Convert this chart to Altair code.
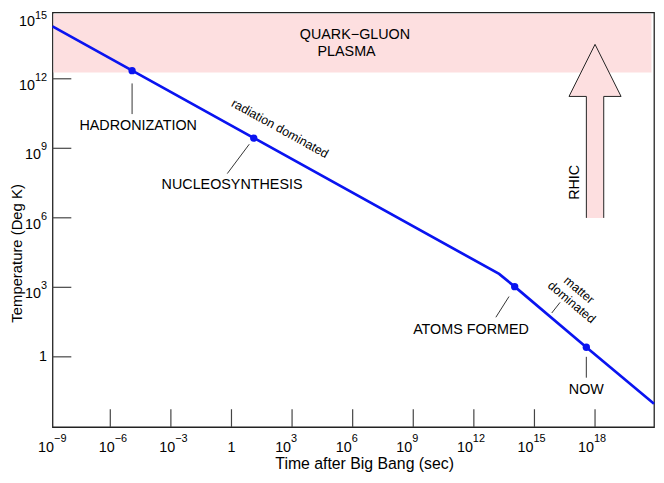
import altair as alt
import pandas as pd

FONT = "Liberation Sans"
BLUE = "#0a14f0"
PINK = "#fddfe0"
INK = "#222222"

# ---- data ----
# temperature history of the universe
line_time = [1.38e-9, 1.78e13, 1.05e14, 3.7e17, 8.3e20]
line_temp = [1.82e14, 3.8e3, 1.07e3, 2.6, 9.5e-3]

event_names = ["HADRONIZATION", "NUCLEOSYNTHESIS", "ATOMS FORMED", "NOW"]
event_time = [1.2e-5, 12.6, 1.05e14, 3.7e17]
event_temp = [2.24e12, 2.75e9, 1.07e3, 2.6]

# quark-gluon plasma region
qgp_time = [1.55e-9, 6.2e20]
qgp_temp = [1.86e12, 6.3e14]

# RHIC arrow (centre)
rhic_time = [1.0e18]
rhic_temp = [5.5e9]

# annotation texts
ann_text = ["HADRONIZATION", "NUCLEOSYNTHESIS", "ATOMS FORMED", "NOW",
            "QUARK\u2212GLUON", "PLASMA", "RHIC",
            "radiation dominated", "matter", "dominated"]
ann_time = [2.4e-5, 1.07, 7.2e11, 3.7e17, 1.3e6, 5.0e5, 1.0e17, 250, 1.6e17, 6.9e16]
ann_temp = [8.9e9, 2.5e7, 15, 0.038, 7.4e13, 1.4e13, 3.4e7, 7.1e9, 760, 224]
ann_angle = [0, 0, 0, 0, 0, 0, 270, 29, 40, 40]
ann_size = [14.5, 14.5, 14.5, 14.5, 14.5, 14.5, 14.5, 12.5, 12.5, 12.5]

# leader lines (start, end)
lead_t0 = [1.2e-5, 0.62, 1.23e13, 3.7e17, 7.2e15]
lead_T0 = [6.3e11, 8.1e7, 51, 1.0, 78]
lead_t1 = [1.2e-5, 7.6, 5.5e13, 3.7e17, 1.86e16]
lead_T1 = [3.0e10, 1.5e9, 400, 0.126, 224]

# tick exponents
x_tick_exps = [-9, -6, -3, 0, 3, 6, 9, 12, 15, 18]
y_tick_exps = [15, 12, 9, 6, 3, 0]

X_MIN, X_MAX = 10 ** -8.86, 10 ** 20.92
Y_MIN, Y_MAX = 10 ** -3.03, 10 ** 14.86
W, H = 608, 419

# ---- scales / axes ----
xs = alt.Scale(type="log", domain=[X_MIN, X_MAX], nice=False)
ys = alt.Scale(type="log", domain=[Y_MIN, Y_MAX], nice=False)
x_axis = alt.Axis(labels=False, ticks=False, domain=False, grid=False,
                  title="Time after Big Bang (sec)", titleFont=FONT, titleFontSize=16,
                  titleFontWeight="normal", titleColor="black", titleX=315, titleY=42,
                  titleAlign="center", titleBaseline="alphabetic")
y_axis = alt.Axis(labels=False, ticks=False, domain=False, grid=False,
                  title="Temperature (Deg K)", titleFont=FONT, titleFontSize=15,
                  titleFontWeight="normal", titleColor="black", titleAngle=270,
                  titleX=-31, titleY=243, titleAlign="center", titleBaseline="alphabetic")


def X(f):
    return alt.X(f, type="quantitative", scale=xs, axis=x_axis)


def Y(f):
    return alt.Y(f, type="quantitative", scale=ys, axis=y_axis)


def sup(e):
    return str(e).replace("-", "\u2212")


# ---- tables ----
line_df = pd.DataFrame({"t": line_time, "T": line_temp})
ev_df = pd.DataFrame({"name": event_names, "t": event_time, "T": event_temp})
qgp_df = pd.DataFrame({"t0": [qgp_time[0]], "t1": [qgp_time[1]],
                       "T0": [qgp_temp[0]], "T1": [qgp_temp[1]]})
rhic_df = pd.DataFrame({"t": rhic_time, "T": rhic_temp})
ann_df = pd.DataFrame({"text": ann_text, "t": ann_time, "T": ann_temp,
                       "angle": ann_angle, "fs": ann_size})
lead_df = pd.DataFrame({"t0": lead_t0, "T0": lead_T0, "t1": lead_t1, "T1": lead_T1})

xt = pd.DataFrame({"e": x_tick_exps})
xt["v"] = [10.0 ** e for e in x_tick_exps]
xt["lab"] = [sup(e) for e in x_tick_exps]
yt = pd.DataFrame({"e": y_tick_exps})
yt["v"] = [10.0 ** e for e in y_tick_exps]
yt["lab"] = [sup(e) for e in y_tick_exps]
yt["nd"] = [len(str(abs(e))) for e in y_tick_exps]

# ---- layers ----
band = alt.Chart(qgp_df).mark_rect(color=PINK, opacity=1).encode(
    x=X("t0"), x2="t1", y=Y("T0"), y2="T1")

ARROW_FILL = "M0,-1L0.3,-0.4L0.1,-0.4L0.1,1L-0.1,1L-0.1,-0.4L-0.3,-0.4Z"
ARROW_EDGE = "M0.1,1L0.1,-0.4L0.3,-0.4L0,-1L-0.3,-0.4L-0.1,-0.4L-0.1,1"
arrow_fill = alt.Chart(rhic_df).mark_point(
    shape=ARROW_FILL, filled=True, fill=PINK, opacity=1, strokeWidth=0, size=30765
).encode(x=X("t"), y=Y("T"))
arrow_edge = alt.Chart(rhic_df).mark_point(
    shape=ARROW_EDGE, filled=False, stroke=INK, strokeWidth=1, opacity=1, size=30765
).encode(x=X("t"), y=Y("T"))

curve = alt.Chart(line_df).mark_line(color=BLUE, strokeWidth=2.7).encode(x=X("t"), y=Y("T"))
dots = alt.Chart(ev_df).mark_circle(color=BLUE, size=55, opacity=1).encode(x=X("t"), y=Y("T"))

leaders = alt.Chart(lead_df).mark_rule(color="#333333", strokeWidth=1).encode(
    x=X("t0"), x2="t1", y=Y("T0"), y2="T1")

labels = alt.Chart(ann_df).mark_text(font=FONT, color="black", align="center",
                                      baseline="middle").encode(
    x=X("t"), y=Y("T"), text="text:N",
    angle=alt.Angle("angle:Q", scale=None), size=alt.Size("fs:Q", scale=None))

# inward ticks
ytick = alt.Chart(yt).transform_filter("datum.e <= 12").mark_rule(
    color="#444444", strokeWidth=1.2).encode(y=Y("v"), x=alt.value(0), x2=alt.value(19))
xtick = alt.Chart(xt).transform_filter("datum.e >= -6").mark_rule(
    color="#444444", strokeWidth=1.2).encode(x=X("v"), y=alt.value(H), y2=alt.value(H - 18))

xbot = alt.YDatum(Y_MIN, type="quantitative", scale=ys, axis=y_axis)
yleft = alt.XDatum(X_MIN, type="quantitative", scale=xs, axis=x_axis)

tick_layers = []
for cond, dxv in [("datum.e < 0", 4.4), ("datum.e > 0", -1)]:
    src = alt.Chart(xt).transform_filter(cond)
    tick_layers.append(src.mark_text(font=FONT, fontSize=14.5, align="right", baseline="middle",
                                     dx=dxv, dy=21, color="black").encode(
        x=X("v"), y=xbot, text=alt.value("10")))
    tick_layers.append(src.mark_text(font=FONT, fontSize=11, align="left", baseline="middle",
                                     dx=dxv, dy=12, color="black").encode(
        x=X("v"), y=xbot, text="lab:N"))
tick_layers.append(alt.Chart(xt).transform_filter("datum.e == 0").mark_text(
    font=FONT, fontSize=14.5, align="center", baseline="middle", dy=21.5, color="black").encode(
    x=X("v"), y=xbot, text=alt.value("1")))

# y labels: (filter, base dx, base dy, exponent dy)
for cond, dxv, bdy, edy in [("datum.e == 15", -17.7, 12.8, 6.8),
                            ("datum.e != 0 && datum.e != 15 && datum.nd == 2", -17.7, 7, -1),
                            ("datum.e != 0 && datum.nd == 1", -11.6, 7, -1)]:
    src = alt.Chart(yt).transform_filter(cond)
    tick_layers.append(src.mark_text(font=FONT, fontSize=14.5, align="right", baseline="middle",
                                     dx=dxv, dy=bdy, color="black").encode(
        y=Y("v"), x=yleft, text=alt.value("10")))
    tick_layers.append(src.mark_text(font=FONT, fontSize=11, align="right", baseline="middle",
                                     dx=-5.5, dy=edy, color="black").encode(
        y=Y("v"), x=yleft, text="lab:N"))
tick_layers.append(alt.Chart(yt).transform_filter("datum.e == 0").mark_text(
    font=FONT, fontSize=14.5, align="right", baseline="middle", dx=-5.5, color="black").encode(
    y=Y("v"), x=yleft, text=alt.value("1")))

chart = alt.layer(
    band, arrow_fill, arrow_edge, curve, dots, leaders, labels, ytick, xtick, *tick_layers
).properties(
    width=W, height=H,
    padding={"left": 45, "top": 2, "right": 2, "bottom": 54},
    autosize=alt.AutoSizeParams(type="none"),
).configure_view(stroke=INK, strokeWidth=1.3)

chart.save("out.html", embed_options={"renderer": "svg", "actions": False})
